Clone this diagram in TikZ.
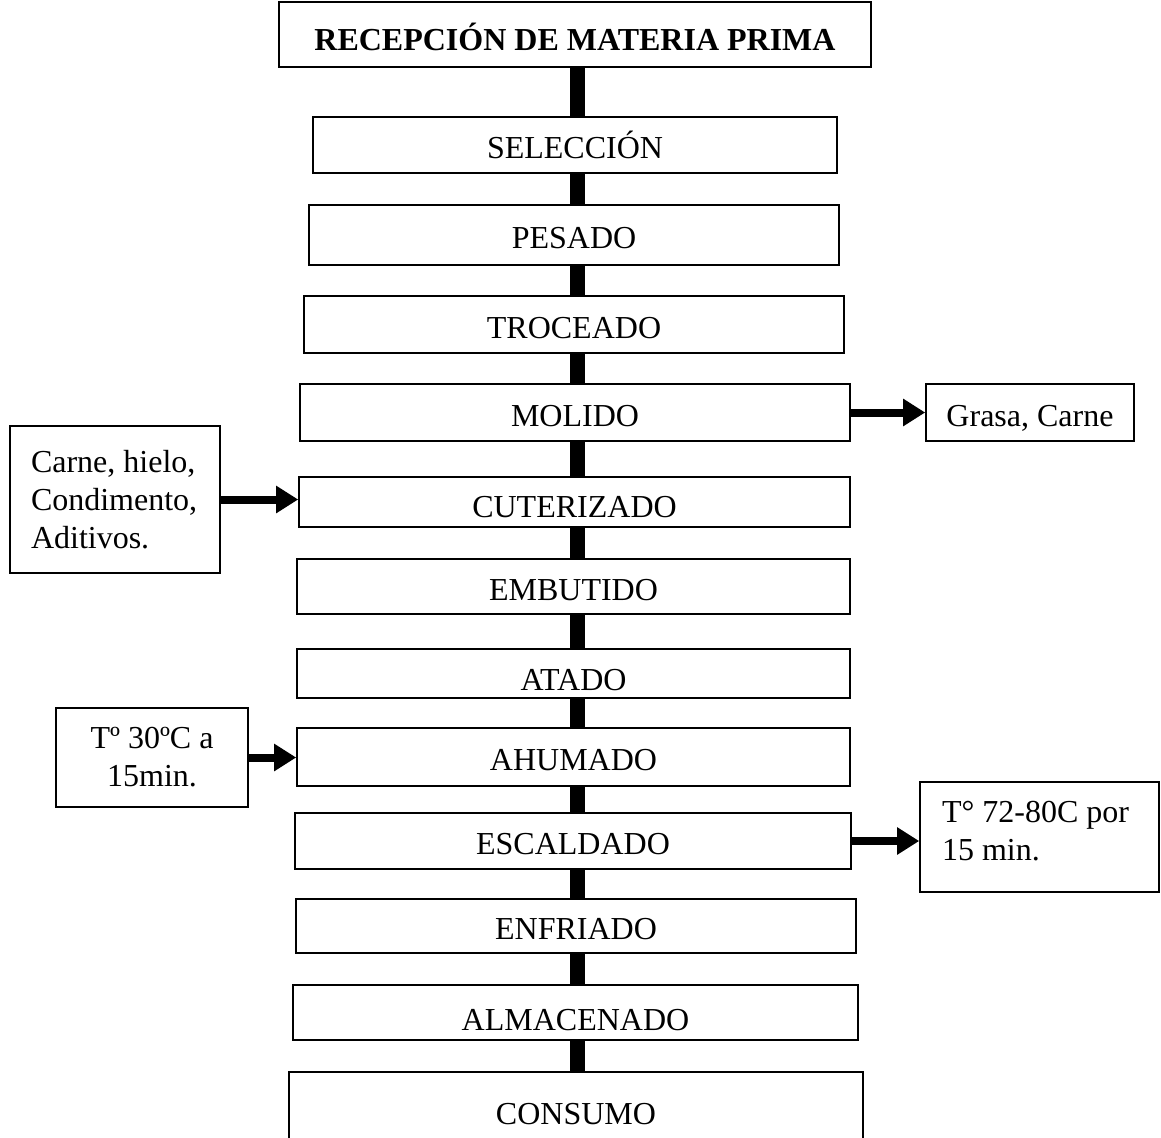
\documentclass[tikz,border=0pt]{standalone}
\usepackage{fontspec}
\setmainfont{Liberation Serif}
\usetikzlibrary{arrows.meta}
\tikzset{
  stepbox/.style={draw, line width=1.6pt, inner sep=0pt, text height=27pt, text depth=0pt},
  notebox/.style={draw, line width=1.6pt, inner sep=0pt, align=flush left},
  link/.style={line width=15pt},
  feed/.style={line width=8pt, -{Triangle[length=22pt,width=26pt]}},
}

\begin{document}
\begin{tikzpicture}[x=1pt, y=-1pt, font=\fontsize{32}{38}\selectfont]
\useasboundingbox (0,0) rectangle (1161,1137);
\coordinate (spine) at (577,0);
% main line
\node[stepbox, line width=2pt, minimum width=592, minimum height=65, text height=33pt, font=\fontsize{32}{38}\selectfont\bfseries] (tit) at (575,34.5) {RECEPCIÓN DE MATERIA PRIMA};
\node[stepbox, minimum width=524, minimum height=56] (sel) at (575,145) {SELECCIÓN};
\node[stepbox, minimum width=530, minimum height=60] (pes) at (574,235) {PESADO};
\node[stepbox, minimum width=540, minimum height=57] (tro) at (574,324.5) {TROCEADO};
\node[stepbox, minimum width=550, minimum height=57] (mol) at (575,412.5) {MOLIDO};
\node[stepbox, minimum width=551, minimum height=50, text height=31pt] (cut) at (574.5,502) {CUTERIZADO};
\node[stepbox, minimum width=553, minimum height=55] (emb) at (573.5,586.5) {EMBUTIDO};
\node[stepbox, minimum width=553, minimum height=49, text height=33pt] (ata) at (573.5,673.5) {ATADO};
\node[stepbox, minimum width=553, minimum height=58] (ahu) at (573.5,757) {AHUMADO};
\node[stepbox, minimum width=556, minimum height=56] (esc) at (573,841) {ESCALDADO};
\node[stepbox, minimum width=560, minimum height=54] (enf) at (576,926) {ENFRIADO};
\node[stepbox, minimum width=565, minimum height=55, text height=35pt] (alm) at (575.5,1012.5) {ALMACENADO};
\node[stepbox, minimum width=574, minimum height=82, text height=22pt] (con) at (576,1113) {CONSUMO};
% side notes
\node[notebox, minimum width=208, minimum height=57, text height=27pt, text depth=0pt] (gra) at (1030,412.5) {Grasa, Carne};
\node[notebox, minimum width=210, minimum height=147, text width=168pt] (ing) at (115,499.5) {Carne, hielo,\\Condimento,\\Aditivos.};
\node[notebox, align=flush center, minimum width=192, minimum height=99, text width=160pt] (aht) at (152,757.5) {Tº 30ºC a\\15min.};
\node[notebox, minimum width=239, minimum height=110, text width=195pt, text depth=50pt] (esct) at (1039.5,837) {T° 72-80C por\\15 min.};
% connectors
\draw[link] (tit.south -| spine) -- (sel.north -| spine);
\draw[link] (sel.south -| spine) -- (pes.north -| spine);
\draw[link] (pes.south -| spine) -- (tro.north -| spine);
\draw[link] (tro.south -| spine) -- (mol.north -| spine);
\draw[link] (mol.south -| spine) -- (cut.north -| spine);
\draw[link] (cut.south -| spine) -- (emb.north -| spine);
\draw[link] (emb.south -| spine) -- (ata.north -| spine);
\draw[link] (ata.south -| spine) -- (ahu.north -| spine);
\draw[link] (ahu.south -| spine) -- (esc.north -| spine);
\draw[link] (esc.south -| spine) -- (enf.north -| spine);
\draw[link] (enf.south -| spine) -- (alm.north -| spine);
\draw[link] (alm.south -| spine) -- (con.north -| spine);
% arrows
\draw[feed] (mol.east) -- (gra.west);
\draw[feed] (ing.east) -- (ing.east -| cut.west);
\draw[feed] (aht.east) -- (aht.east -| ahu.west);
\draw[feed] (esc.east) -- (esc.east -| esct.west);
\end{tikzpicture}
\end{document}
